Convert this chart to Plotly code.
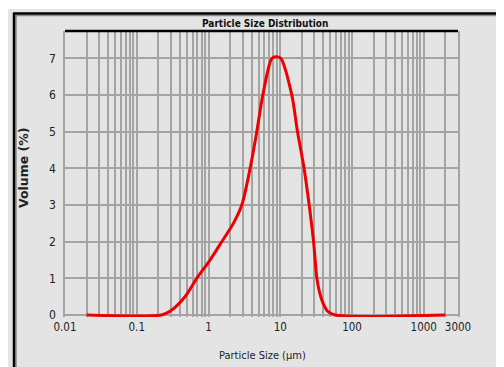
import plotly.graph_objects as go

# ---- data ----
particle_size_um = [0.02, 0.22, 0.29, 0.47, 0.685, 1.05, 1.53, 2.22, 2.91, 3.8, 4.71, 5.71,
                    7.62, 8.77, 10.2, 14.5, 17.4, 21.5, 25.3, 29.1, 32.4, 35.5, 40.0, 46.0,
                    58.3, 2000]
volume_pct = [0, 0, 0.1, 0.5, 1.0, 1.5, 2.0, 2.5, 3.0, 4.0, 5.0, 6.0,
              7.0, 7.05, 7.0, 6.0, 5.0, 4.0, 3.0, 2.0, 1.0, 0.6, 0.3, 0.1,
              0, 0]
x_tick_vals = [0.01, 0.1, 1, 10, 100, 1000, 3000]
x_tick_text = ["0.01", "0.1", "1", "10", "100", "1000", "3000"]
y_tick_vals = [0, 1, 2, 3, 4, 5, 6, 7]

# page body has an 8px margin; lay out in reference pixel coordinates
OFF = 8
W, H = 504 - OFF, 367 - OFF
L, R, T, B = 65 - OFF, 46, 31 - OFF, 50
PW, PH = W - L - R, H - T - B
Y_MIN = -0.0546

def px(x):
    return (x - OFF - L) / PW

def py(y):
    return (H - B - (y - OFF)) / PH

minor_vals = [d * 10 ** e for e in range(-2, 4) for d in range(2, 10) if d * 10 ** e < 3000]

narrow = "Liberation Sans Narrow, DejaVu Sans Condensed, Arial Narrow, sans-serif"
panel = "#e4e4e4"
grid = "#a4a4a4"

fig = go.Figure()
fig.add_trace(go.Scatter(
    x=particle_size_um, y=volume_pct, mode="lines",
    line=dict(color="#ee0000", width=3, shape="spline", smoothing=0.8),
    showlegend=False, hoverinfo="skip"))

fig.update_layout(
    width=W, height=H,
    margin=dict(l=L, r=R, t=T, b=B, pad=0),
    paper_bgcolor="white", plot_bgcolor=panel,
    xaxis=dict(type="log", range=[-2, 3.4771], tickvals=x_tick_vals, ticktext=x_tick_text,
               showgrid=True, gridcolor=grid, gridwidth=1.5, zeroline=False,
               showline=False, ticks="", ticklabelstandoff=1,
               tickfont=dict(family=narrow, size=11.5, color="#222222"),
               minor=dict(tickvals=minor_vals, showgrid=True, gridcolor=grid, gridwidth=1.5, ticks="")),
    yaxis=dict(range=[Y_MIN, 7.75], tickvals=y_tick_vals, showgrid=True, gridcolor=grid, gridwidth=1.5,
               zeroline=False, showline=True, linecolor=grid, linewidth=1.5, mirror=True,
               ticks="", ticklabelstandoff=5,
               tickfont=dict(family=narrow, size=12, color="#222222")),
    shapes=[
        dict(type="rect", xref="paper", yref="paper", x0=px(8), x1=px(510), y0=py(372), y1=py(9),
             fillcolor=panel, line=dict(width=0), layer="below"),
        dict(type="line", xref="paper", yref="paper", x0=px(16), x1=px(16), y0=py(372), y1=py(15),
             line=dict(color="#8a8a8a", width=1.5)),
        dict(type="line", xref="paper", yref="paper", x0=px(16), x1=px(510), y0=py(15.5), y1=py(15.5),
             line=dict(color="#8a8a8a", width=1.5)),
        dict(type="line", xref="paper", yref="paper", x0=px(14), x1=px(14), y0=py(372), y1=py(13),
             line=dict(color="black", width=2.5)),
        dict(type="line", xref="paper", yref="paper", x0=px(13), x1=px(510), y0=py(13.5), y1=py(13.5),
             line=dict(color="black", width=2.5)),
        dict(type="line", xref="paper", yref="paper", x0=0, x1=1, y0=1, y1=1,
             line=dict(color="black", width=2.5)),
    ],
    annotations=[
        dict(text="Particle Size Distribution", xref="paper", yref="paper", x=px(264.5), y=py(23),
             xanchor="center", yanchor="middle", showarrow=False,
             font=dict(family=narrow, size=10, color="#111111", weight="bold")),
        dict(text="Particle Size (µm)", xref="paper", yref="paper", x=px(262), y=py(355),
             xanchor="center", yanchor="middle", showarrow=False,
             font=dict(family=narrow, size=11, color="#222222")),
        dict(text="Volume (%)", xref="paper", yref="paper", x=px(23), y=py(168), textangle=-90,
             xanchor="center", yanchor="middle", showarrow=False,
             font=dict(family="DejaVu Sans, sans-serif", size=12.5, color="#222222", weight="bold")),
    ],
)

fig.write_html("out.html")
